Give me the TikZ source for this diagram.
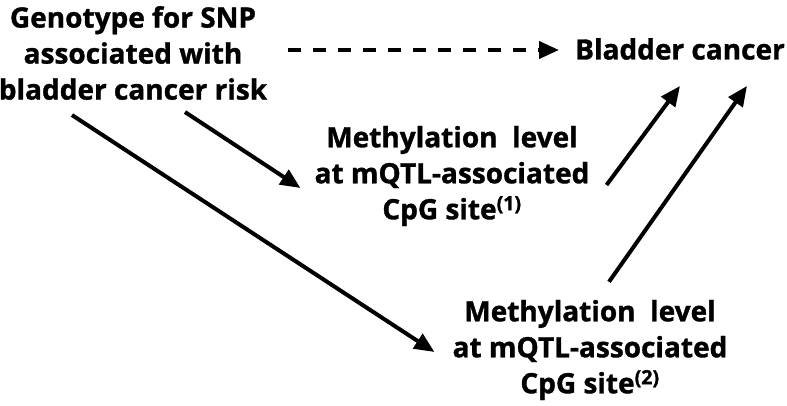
\documentclass[tikz,border=0pt]{standalone}
\usepackage{fontspec}
\setmainfont{Open Sans}[BoldFeatures={FakeBold=1.2}]
\usetikzlibrary{arrows.meta}
\tikzset{lbl/.style={align=center,inner sep=0pt,font=\fontsize{28}{36}\selectfont\bfseries},
  arr/.style={line width=4pt,-{Triangle[length=20pt,width=17pt]}}}

\begin{document}
\begin{tikzpicture}[x=1pt,y=-1pt]
  \useasboundingbox (0,0) rectangle (787,406);
  \node[lbl] (geno) at (133,53) {Genotype for SNP\\associated with\\bladder cancer risk};
  \node[lbl] (bc) at (680,49) {Bladder cancer};
  \node[lbl] (meth1) at (452,176) {Methylation~~level\\at mQTL-associated\\CpG site\textsuperscript{(1)}};
  \node[lbl] (meth2) at (590,350) {Methylation~~level\\at mQTL-associated\\CpG site\textsuperscript{(2)}};
  \draw[arr, dash pattern=on 13pt off 12pt] ([shift={(21,-3)}]geno.east) -- ([shift={(-16,1)}]bc.west); % direct path
  \draw[arr] ([shift={(52,12)}]geno.south) -- ([shift={(-14,12)}]meth1.west);
  \draw[arr] ([shift={(-61,15)}]geno.south) -- ([shift={(-18,2)}]meth2.west);
  \draw[arr] ([shift={(17,9)}]meth1.east) -- ([shift={(0,26)}]bc.south);
  \draw[arr] ([shift={(19,-18)}]meth2.north) -- ([shift={(67,26)}]bc.south);
\end{tikzpicture}
\end{document}
